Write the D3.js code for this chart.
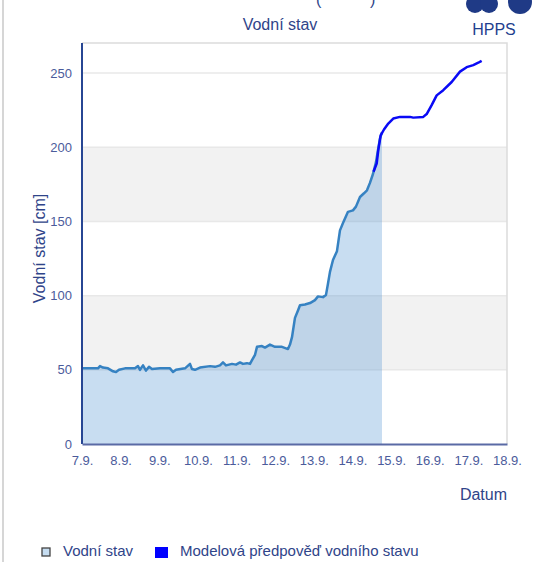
<!DOCTYPE html>
<html>
<head>
<meta charset="utf-8">
<script src="https://cdn.jsdelivr.net/npm/d3@7"></script>
<style>
    body { margin: 0; background: #fff; font-family: "Liberation Sans", Arial, sans-serif; }
    .tick-label { font-size: 13px; fill: #4b5b9b; }
    .axis-title { font-size: 16px; fill: #2f4489; }
    .legend-label { font-size: 15px; fill: #2f4489; }
</style>
</head>
<body>
<div id="chart"></div>
<script>
// observed water level: time in fractional days of September, level in cm
const obsDays = [7.000, 7.207, 7.414, 7.466, 7.543, 7.673, 7.802, 7.880, 7.958, 8.113,
    8.372, 8.449, 8.501, 8.579, 8.656, 8.734, 8.812, 9.019, 9.277, 9.355,
    9.433, 9.666, 9.795, 9.847, 9.924, 10.054, 10.313, 10.442, 10.571, 10.649,
    10.727, 10.882, 10.986, 11.089, 11.167, 11.270, 11.348, 11.400, 11.477, 11.529,
    11.658, 11.736, 11.865, 11.995, 12.176, 12.331, 12.383, 12.435, 12.512, 12.590,
    12.642, 12.771, 12.901, 13.030, 13.108, 13.237, 13.315, 13.366, 13.418, 13.496,
    13.599, 13.677, 13.755, 13.884, 14.013, 14.091, 14.195, 14.298, 14.376, 14.453,
    14.531, 14.609, 14.660, 14.712, 14.764];
const obsLevels = [51, 51, 51, 52.5, 51.5, 51, 49, 48.5, 50, 51,
    51, 52.5, 50, 53, 49.5, 52, 50.5, 51, 51, 48.5,
    50, 51, 54, 50.5, 50, 51.5, 52.5, 52, 53, 55,
    53, 54, 53.5, 55, 54, 54.5, 54, 56.5, 60, 65.5,
    66, 65, 67, 65.5, 65.5, 64, 67, 72, 85, 90,
    93.5, 94, 95, 97, 99.5, 99, 100.5, 108, 116, 124,
    130, 144, 149, 156.5, 157.5, 160, 166.5, 169, 171, 176,
    182, 190, 198, 206, 210];

// model forecast
const fcDays = [14.545, 14.627, 14.668, 14.730, 14.816, 14.927, 15.056, 15.230, 15.489, 15.574,
    15.833, 15.921, 16.050, 16.180, 16.351, 16.568, 16.783, 16.956, 17.127, 17.256, 17.344];
const fcLevels = [183.5, 189, 198, 208, 212, 216, 219.4, 220.5, 220.5, 220,
    220.5, 222.4, 228.4, 235, 238.5, 244, 251, 254, 255.4, 257, 258.3];

const yTicks = [0, 50, 100, 150, 200, 250];
const xTickDays = [7, 8, 9, 10, 11, 12, 13, 14, 15, 16, 17, 18];
const bands = [[50, 100], [150, 200]];

const width = 533;
const height = 562;
const plotLeft = 82, plotRight = 507, plotTop = 43, plotBottom = 444;

const toDate = d => new Date(Date.UTC(2024, 8, 1) + (d - 1) * 864e5);

const svg = d3.select("#chart")
    .append("svg")
    .attr("width", width)
    .attr("height", height);

const x = d3.scaleUtc()
    .domain([toDate(7), toDate(18)])
    .range([plotLeft, plotRight]);

const y = d3.scaleLinear()
    .domain([0, 270.3])
    .range([plotBottom, plotTop]);

// page frame line on the left
svg.append("line")
    .attr("x1", 3).attr("x2", 3)
    .attr("y1", 0).attr("y2", height)
    .attr("stroke", "#d6d6d6")
    .attr("stroke-width", 2);

// clipped header text and logo at top
svg.append("text").attr("x", 316).attr("y", 5).attr("font-size", 16).attr("fill", "#2f4489").text("(");
svg.append("text").attr("x", 370).attr("y", 5).attr("font-size", 16).attr("fill", "#2f4489").text(")");
svg.append("circle").attr("cx", 475).attr("cy", 4).attr("r", 9).attr("fill", "#1f3a86");
svg.append("circle").attr("cx", 489).attr("cy", 4).attr("r", 9).attr("fill", "#1f3a86");
svg.append("circle").attr("cx", 520).attr("cy", 2).attr("r", 12).attr("fill", "#1f3a86");
svg.append("text")
    .attr("x", 494).attr("y", 35)
    .attr("text-anchor", "middle")
    .attr("font-size", 16)
    .attr("fill", "#1f3f8f")
    .text("HPPS");

svg.append("text")
    .attr("x", 280).attr("y", 30)
    .attr("text-anchor", "middle")
    .attr("class", "axis-title")
    .text("Vodní stav");

// grey bands
bands.forEach(b => {
    svg.append("rect")
        .attr("x", plotLeft)
        .attr("y", y(b[1]))
        .attr("width", plotRight - plotLeft)
        .attr("height", y(b[0]) - y(b[1]))
        .attr("fill", "#f2f2f2");
});

// grid lines
svg.append("g")
    .selectAll("line")
    .data(yTicks.filter(t => t > 0))
    .join("line")
    .attr("x1", plotLeft).attr("x2", plotRight)
    .attr("y1", d => y(d)).attr("y2", d => y(d))
    .attr("stroke", "#e8e8e8")
    .attr("stroke-width", 1.5);

// plot frame (top and right)
svg.append("path")
    .attr("d", `M${plotLeft},${plotTop}H${plotRight}V${plotBottom}`)
    .attr("fill", "none")
    .attr("stroke", "#dcdcdc")
    .attr("stroke-width", 1.5);

const obs = obsDays.map((d, i) => ({ t: toDate(d), v: obsLevels[i] }));
const fc = fcDays.map((d, i) => ({ t: toDate(d), v: fcLevels[i] }));

svg.append("path")
    .datum(obs)
    .attr("d", d3.area().x(d => x(d.t)).y0(y(0)).y1(d => y(d.v)))
    .attr("fill", "#4a90d0")
    .attr("fill-opacity", 0.3);

svg.append("path")
    .datum(obs)
    .attr("d", d3.line().x(d => x(d.t)).y(d => y(d.v)))
    .attr("fill", "none")
    .attr("stroke", "#3682c2")
    .attr("stroke-width", 2.5)
    .attr("stroke-linejoin", "round");

svg.append("path")
    .datum(fc)
    .attr("d", d3.line().x(d => x(d.t)).y(d => y(d.v)))
    .attr("fill", "none")
    .attr("stroke", "#0a0af5")
    .attr("stroke-width", 2.5)
    .attr("stroke-linejoin", "round");

// axes
const yAxis = svg.append("g")
    .attr("transform", `translate(${plotLeft},0)`)
    .call(d3.axisLeft(y).tickValues(yTicks).tickSize(0).tickPadding(10));
yAxis.select(".domain").attr("stroke", "#274693").attr("stroke-width", 2)
    .attr("d", `M0,${plotTop}V${plotBottom}`);
yAxis.selectAll("text").attr("class", "tick-label").attr("font-family", null).attr("font-size", null).attr("fill", null);

const xAxis = svg.append("g")
    .attr("transform", `translate(0,${plotBottom})`)
    .call(d3.axisBottom(x).tickValues(xTickDays.map(toDate)).tickSize(0).tickPadding(12)
        .tickFormat(d => `${d.getUTCDate()}.${d.getUTCMonth() + 1}.`));
xAxis.select(".domain").attr("stroke", "#5a6aa5").attr("stroke-width", 2);
xAxis.selectAll("text").attr("class", "tick-label").attr("font-family", null).attr("font-size", null).attr("fill", null);

svg.append("text")
    .attr("transform", `translate(45,${(plotTop + plotBottom) / 2 + 5}) rotate(-90)`)
    .attr("text-anchor", "middle")
    .attr("class", "axis-title")
    .text("Vodní stav [cm]");

svg.append("text")
    .attr("x", plotRight)
    .attr("y", 500)
    .attr("text-anchor", "end")
    .attr("class", "axis-title")
    .attr("font-size", 17)
    .text("Datum");

// legend
svg.append("rect")
    .attr("x", 42).attr("y", 548)
    .attr("width", 8).attr("height", 8)
    .attr("fill", "#c6ddf1")
    .attr("stroke", "#444")
    .attr("stroke-width", 1.3);
svg.append("text")
    .attr("x", 63).attr("y", 556)
    .attr("class", "legend-label")
    .text("Vodní stav");
svg.append("rect")
    .attr("x", 155).attr("y", 547)
    .attr("width", 13).attr("height", 11)
    .attr("fill", "#0000ff");
svg.append("text")
    .attr("x", 180).attr("y", 556)
    .attr("class", "legend-label")
    .text("Modelová předpověď vodního stavu");
</script>
</body>
</html>
